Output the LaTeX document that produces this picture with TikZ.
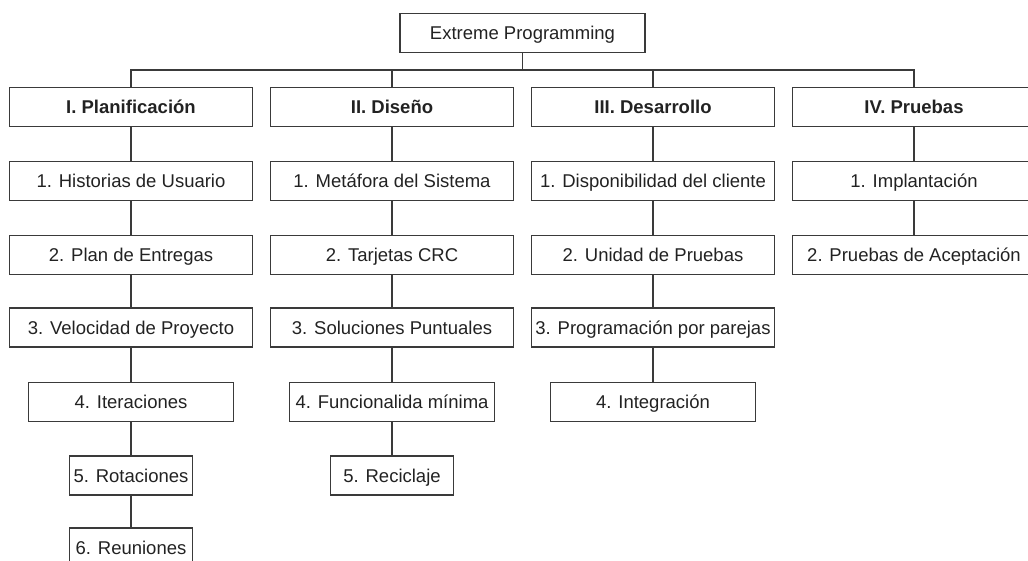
\documentclass[tikz,border=0pt]{standalone}
\usepackage{fontspec}
\setmainfont{Liberation Sans}
\definecolor{linegray}{HTML}{3A3A3A}
\definecolor{textgray}{HTML}{222222}

\begin{document}
\begin{tikzpicture}[x=1pt, y=-1pt,
		every node/.style={draw=linegray, line width=1.3pt, text=textgray, inner sep=0pt, minimum height=39pt,
			text height=15pt, text depth=1.8pt, font=\fontsize{18.5}{22}\selectfont},
		phase/.style={minimum width=243pt, font=\fontsize{18.5}{22}\selectfont\bfseries},
		wide/.style={minimum width=243pt},
		mid/.style={minimum width=205pt},
		small/.style={minimum width=123pt},
		link/.style={draw=linegray, line width=1.3pt}]
		\useasboundingbox (0,0) rectangle (1028,561);
		\node[minimum width=245pt] (xp) at (522.5,33) {Extreme Programming};
		\coordinate (bar) at (522.5,70);
		% fases
		\node[phase] (plan) at (131,107) {I. Planificación};
		\node[phase] (dis) at (392,107) {II. Diseño};
		\node[phase] (des) at (653,107) {III. Desarrollo};
		\node[phase] (pru) at (914,107) {IV. Pruebas};
		% planificacion
		\node[wide] (plan1) at (131,181) {1. Historias de Usuario};
		\node[wide] (plan2) at (131,255) {2. Plan de Entregas};
		\node[wide] (plan3) at (131,327.5) {3. Velocidad de Proyecto};
		\node[mid] (plan4) at (131,402) {4. Iteraciones};
		\node[small] (plan5) at (131,475.5) {5. Rotaciones};
		\node[small] (plan6) at (131,547.5) {6. Reuniones};
		% diseno
		\node[wide] (dis1) at (392,181) {1. Metáfora del Sistema};
		\node[wide] (dis2) at (392,255) {2. Tarjetas CRC};
		\node[wide] (dis3) at (392,327.5) {3. Soluciones Puntuales};
		\node[mid] (dis4) at (392,402) {4. Funcionalida mínima};
		\node[small] (dis5) at (392,475.5) {5. Reciclaje};
		% desarrollo
		\node[wide] (des1) at (653,181) {1. Disponibilidad del cliente};
		\node[wide] (des2) at (653,255) {2. Unidad de Pruebas};
		\node[wide] (des3) at (653,327.5) {3. Programación por parejas};
		\node[mid] (des4) at (653,402) {4. Integración};
		% pruebas
		\node[wide] (pru1) at (914,181) {1. Implantación};
		\node[wide] (pru2) at (914,255) {2. Pruebas de Aceptación};
		% conexiones
		\draw[link] (xp.south) -- (bar) -| (plan.north);
		\draw[link] (bar) -| (dis.north);
		\draw[link] (bar) -| (des.north);
		\draw[link] (bar) -| (pru.north);
		\draw[link] (plan) -- (plan1) -- (plan2) -- (plan3) -- (plan4) -- (plan5) -- (plan6);
		\draw[link] (dis) -- (dis1) -- (dis2) -- (dis3) -- (dis4) -- (dis5);
		\draw[link] (des) -- (des1) -- (des2) -- (des3) -- (des4);
		\draw[link] (pru) -- (pru1) -- (pru2);
	\end{tikzpicture}
\end{document}
